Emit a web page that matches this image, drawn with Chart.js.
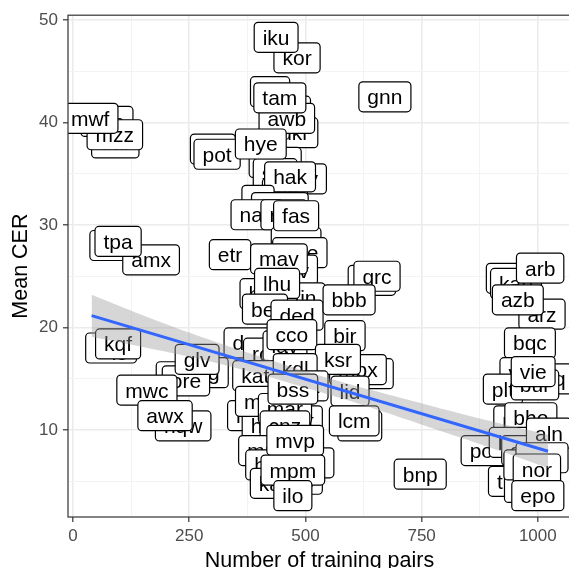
<!DOCTYPE html>
<html>
<head>
<meta charset="utf-8">
<script src="https://cdn.jsdelivr.net/npm/chart.js@4.4.1/dist/chart.umd.min.js"></script>
<style>
html, body { margin: 0; padding: 0; overflow: hidden; background: #fff; }
#chart { display: block; }
</style>
</head>
<body>
<canvas id="chart" width="574" height="568"></canvas>
<script>
// languages in drawing order (later ones sit on top)
const langs = [
	'pan', 'dar', 'mzz', 'mwf', 'tpb', 'amx', 'tpa', 'kqg', 'kqf', 'oro', 'gug', 'ore', 'glv', 'mwc', 'nqw', 'awx',
	'kor', 'iku', 'tel', 'urd', 'ukr', 'awb', 'tam', 'gnn', 'pol', 'pot', 'pbe', 'sqi', 'kky', 'ajp', 'hye', 'hak',
	'lit', 'mkd', 'nap', 'rus', 'oss', 'fas', 'etr', 'swe', 'slv', 'mav', 'hrv', 'kin', 'fin', 'lhu', 'bel', 'ded',
	'grd', 'grc', 'bbb', 'bir', 'dan', 'rom', 'lav', 'cco', 'kat', 'mpy', 'mpx', 'ksr', 'kdl', 'tha', 'lid', 'nld',
	'heb', 'cat', 'mlt', 'mar', 'bss', 'cnz', 'lcn', 'lcm', 'mri', 'hin', 'mon', 'ind', 'kaz', 'mvp', 'mpm', 'ilo', 'bnp',
	'kaa', 'kab', 'arz', 'arb', 'azb', 'bqc', 'vec', 'plt', 'bdq', 'bur', 'vie', 'pes', 'bho', 'pon', 'lug', 'srp',
	'aln', 'tpi', 'eus', 'nob', 'nno', 'nor', 'epo'
];
const pairs = [
	73, 91, 90, 37, 86, 168, 97, 82, 97, 230, 278, 243, 267, 159, 237, 198,
	482, 437, 424, 460, 477, 460, 445, 671, 301, 310, 435, 435, 493, 456, 404, 467,
	398, 445, 396, 454, 480, 480, 338, 488, 480, 443, 409, 467, 500, 439, 413, 482,
	643, 654, 594, 585, 381, 424, 456, 471, 392, 628, 613, 570, 478, 499, 596, 381,
	420, 488, 398, 456, 473, 456, 617, 605, 406, 420, 499, 488, 435, 478, 473, 473, 747,
	944, 953, 1009, 1005, 957, 983, 972, 925, 1022, 994, 990, 960, 985, 891, 944, 972,
	1024, 936, 983, 983, 1009, 998, 1000
];
const meanCer = [
	40.1, 38.0, 38.8, 40.4, 28.0, 26.6, 28.4, 18.0, 18.4, 15.2, 15.6, 14.8, 16.9, 13.9, 10.4, 11.4,
	46.3, 48.3, 43.0, 41.1, 39.0, 40.4, 42.4, 42.5, 37.4, 36.9, 36.1, 35.0, 34.5, 33.1, 37.9, 34.7,
	32.4, 31.7, 31.0, 31.0, 28.3, 30.9, 27.1, 27.3, 25.6, 26.7, 23.3, 22.7, 22.9, 24.3, 21.8, 21.2,
	24.6, 25.0, 22.7, 19.2, 18.5, 17.5, 18.2, 19.3, 15.3, 15.5, 15.9, 16.9, 16.0, 14.3, 13.8, 11.4,
	10.4, 10.9, 12.8, 12.1, 14.0, 10.4, 10.4, 10.9, 8.0, 6.6, 6.8, 5.2, 4.8, 9.0, 6.1, 3.6, 5.7,
	24.8, 24.3, 21.3, 25.8, 22.7, 18.5, 15.6, 14.0, 15.0, 14.4, 15.7, 10.9, 11.2, 8.0, 8.8, 8.0,
	9.7, 5.0, 4.4, 6.6, 7.3, 6.2, 3.6
];

// linear fit and its confidence band
const fitX = [40, 1022];
const fitY = [21.16, 7.93];
const bandX = [40, 150, 275, 400, 525, 650, 775, 900, 1022];
const bandLo = [19.1, 18.1, 16.9, 15.45, 13.8, 12.05, 10.15, 8.25, 6.3];
const bandHi = [23.2, 21.2, 19.1, 17.2, 15.4, 13.8, 12.3, 10.85, 9.55];

const xTicks = [0, 250, 500, 750, 1000];
const yTicks = [10, 20, 30, 40, 50];
const xMinor = [125, 375, 625, 875];
const yMinor = [5, 15, 25, 35, 45];

const FONT = '"Liberation Sans", Arial, Helvetica, sans-serif';

const labelBoxes = {
	id: 'labelBoxes',
	beforeDatasetsDraw(chart) {
		const {ctx, chartArea: a} = chart;
		const meta = chart.getDatasetMeta(0);
		ctx.save();
		ctx.beginPath();
		ctx.rect(a.left, a.top, a.right - a.left, a.bottom - a.top);
		ctx.clip();
		ctx.font = `21px ${FONT}`;
		ctx.textAlign = 'center';
		ctx.textBaseline = 'alphabetic';
		ctx.lineWidth = 1.2;
		ctx.strokeStyle = '#000';
		meta.data.forEach((pt, i) => {
			const txt = langs[i];
			const w = ctx.measureText(txt).width + 17;
			const h = 30;
			ctx.beginPath();
			ctx.roundRect(pt.x - w / 2, pt.y - h / 2, w, h, 4);
			ctx.fillStyle = '#fff';
			ctx.fill();
			ctx.stroke();
			ctx.fillStyle = '#000';
			ctx.fillText(txt, pt.x, pt.y + 7.5);
		});
		ctx.restore();
	},
	afterDraw(chart) {
		const {ctx, chartArea: a} = chart;
		ctx.save();
		ctx.strokeStyle = '#333';
		ctx.lineWidth = 1.2;
		ctx.strokeRect(a.left, a.top, a.right - a.left, a.bottom - a.top);
		ctx.restore();
	}
};

const isMajor = (v, list) => list.includes(v);

const data = {
	datasets: [
		{
			type: 'scatter',
			data: langs.map((l, i) => ({x: pairs[i], y: meanCer[i]})),
			pointRadius: 0,
			pointHoverRadius: 0,
			order: 3
		},
		{
			type: 'line',
			data: bandX.map((x, i) => ({x, y: bandLo[i]})),
			borderWidth: 0,
			pointRadius: 0,
			tension: 0.4,
			fill: false,
			order: 2
		},
		{
			type: 'line',
			data: bandX.map((x, i) => ({x, y: bandHi[i]})),
			borderWidth: 0,
			pointRadius: 0,
			tension: 0.4,
			fill: '-1',
			backgroundColor: 'rgba(153,153,153,0.4)',
			order: 1
		},
		{
			type: 'line',
			data: fitX.map((x, i) => ({x, y: fitY[i]})),
			borderColor: '#3366FF',
			borderWidth: 3,
			pointRadius: 0,
			fill: false,
			order: 0
		}
	]
};

new Chart(document.getElementById('chart'), {
	type: 'scatter',
	data,
	plugins: [labelBoxes],
	options: {
		responsive: false,
		animation: false,
		events: [],
		layout: {padding: {left: 0, top: 11, right: 3, bottom: 0}},
		plugins: {legend: {display: false}, tooltip: {enabled: false}},
		scales: {
			x: {
				type: 'linear',
				min: -10.76,
				max: 1071.4,
				afterBuildTicks: s => { s.ticks = [...xTicks, ...xMinor].sort((a, b) => a - b).map(v => ({value: v})); },
				afterFit: s => { s.height = 51; },
				border: {display: false},
				grid: {
					color: c => isMajor(c.tick.value, xTicks) ? '#ebebeb' : '#f3f3f3',
					lineWidth: c => isMajor(c.tick.value, xTicks) ? 1.6 : 1,
					tickColor: c => isMajor(c.tick.value, xTicks) ? '#333' : 'rgba(0,0,0,0)',
					tickLength: 5,
					tickWidth: 1.2
				},
				ticks: {
					padding: 4,
					color: '#4d4d4d',
					font: {family: FONT, size: 17},
					maxRotation: 0,
					autoSkip: false,
					callback: v => isMajor(v, xTicks) ? v : ''
				},
				title: {
					display: true,
					text: 'Number of training pairs',
					color: '#000',
					font: {family: FONT, size: 21.5, lineHeight: 0.6},
					padding: {top: 0, bottom: 0}
				}
			},
			y: {
				type: 'linear',
				min: 1.52,
				max: 50.46,
				afterBuildTicks: s => { s.ticks = [...yTicks, ...yMinor].sort((a, b) => a - b).map(v => ({value: v})); },
				afterFit: s => { s.width = 68; },
				border: {display: false},
				grid: {
					color: c => isMajor(c.tick.value, yTicks) ? '#ebebeb' : '#f3f3f3',
					lineWidth: c => isMajor(c.tick.value, yTicks) ? 1.6 : 1,
					tickColor: c => isMajor(c.tick.value, yTicks) ? '#333' : 'rgba(0,0,0,0)',
					tickLength: 5,
					tickWidth: 1.2
				},
				ticks: {
					padding: 5,
					color: '#4d4d4d',
					font: {family: FONT, size: 17},
					autoSkip: false,
					callback: v => isMajor(v, yTicks) ? v : ''
				},
				title: {
					display: true,
					text: 'Mean CER',
					color: '#000',
					font: {family: FONT, size: 21.5, lineHeight: 1.2},
					padding: {top: 8, bottom: 0}
				}
			}
		}
	}
});
</script>
</body>
</html>
